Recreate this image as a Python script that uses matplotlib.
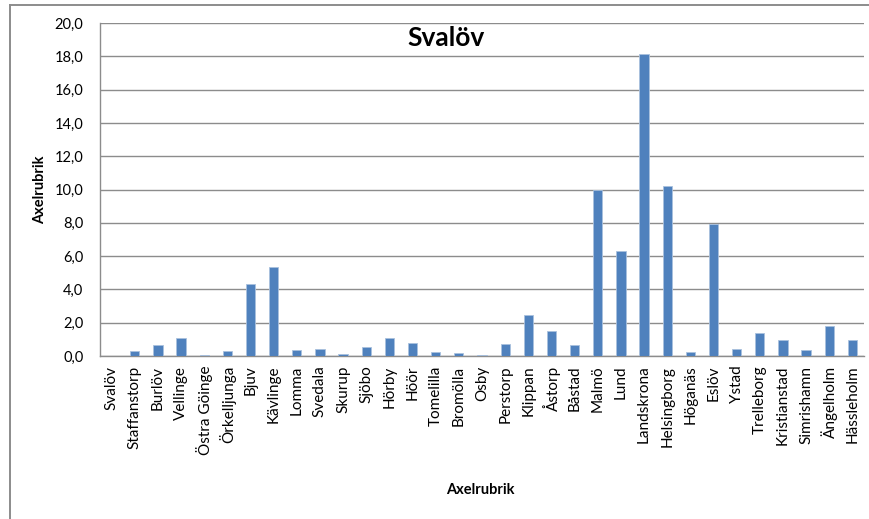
import matplotlib
matplotlib.use("Agg")
import matplotlib.pyplot as plt
from matplotlib.lines import Line2D
import numpy as np

categories = ["Svalöv", "Staffanstorp", "Burlöv", "Vellinge", "Östra Göinge", "Örkelljunga",
              "Bjuv", "Kävlinge", "Lomma", "Svedala", "Skurup", "Sjöbo", "Hörby", "Höör",
              "Tomelilla", "Bromölla", "Osby", "Perstorp", "Klippan", "Åstorp", "Båstad",
              "Malmö", "Lund", "Landskrona", "Helsingborg", "Höganäs", "Eslöv", "Ystad",
              "Trelleborg", "Kristianstad", "Simrishamn", "Ängelholm", "Hässleholm"]
values = [0.0, 0.32, 0.68, 1.08, 0.08, 0.32,
          4.32, 5.35, 0.38, 0.44, 0.14, 0.54, 1.08, 0.80,
          0.24, 0.20, 0.06, 0.74, 2.46, 1.50, 0.68,
          9.94, 6.32, 18.16, 10.24, 0.24, 7.92, 0.44,
          1.40, 0.94, 0.38, 1.78, 0.98]
yticks = [0, 2, 4, 6, 8, 10, 12, 14, 16, 18, 20]
title = "Svalöv"
xlabel = "Axelrubrik"
ylabel = "Axelrubrik"

plt.rcParams['font.family'] = ['Lato', 'DejaVu Sans']

W, H = 869, 519
fig = plt.figure(figsize=(W / 100, H / 100), dpi=100)
ax = fig.add_axes([100 / W, 1 - 356 / H, (864 - 100) / W, (356 - 23) / H])

x = np.arange(len(categories))
ax.bar(x, values, width=0.4, color='#4f81bd', edgecolor='#a9c1de', linewidth=0.6, zorder=3)

ax.set_xlim(-0.5, len(categories) - 0.5)
ax.set_ylim(0, 20)
ax.set_yticks(yticks)
ax.set_yticklabels([f"{v:.1f}".replace('.', ',') for v in yticks], fontsize=10.5)
ax.set_xticks(x)
ax.set_xticklabels(categories, rotation=90, fontsize=11, va='top', ha='center')
ax.tick_params(axis='x', length=0, pad=7)
ax.tick_params(axis='y', length=0, pad=12)
ax.yaxis.grid(True, color='#8c8c8c', linewidth=1.0, zorder=0)
ax.set_axisbelow(True)
for s in ['top', 'right']:
    ax.spines[s].set_visible(False)
for s in ['left', 'bottom']:
    ax.spines[s].set_color('#8c8c8c')
    ax.spines[s].set_linewidth(1.0)

fig.text(446 / W, 1 - 38 / H, title, fontsize=19, fontweight='bold', ha='center', va='center')
fig.text(40 / W, 1 - 190 / H, ylabel, fontsize=10.5, fontweight='bold', rotation=90,
         ha='center', va='center')
fig.text(480 / W, 1 - 490 / H, xlabel, fontsize=10.5, fontweight='bold', ha='center', va='center')

# chart area border (left and top visible)
fig.add_artist(Line2D([10 / W, 10 / W], [0, 1 - 5 / H], transform=fig.transFigure,
                      color='#8c8c8c', linewidth=1.4))
fig.add_artist(Line2D([10 / W, 1], [1 - 5 / H, 1 - 5 / H], transform=fig.transFigure,
                      color='#8c8c8c', linewidth=1.4))

fig.savefig("out.png", dpi=100)
